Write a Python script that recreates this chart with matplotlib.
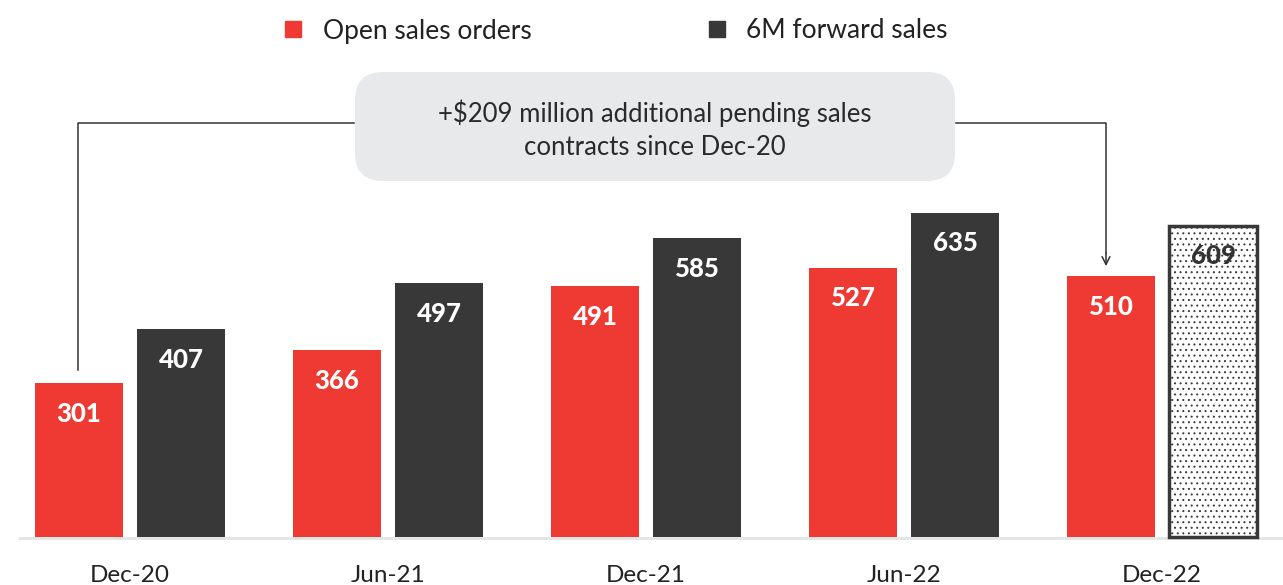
import numpy as np
import matplotlib.pyplot as plt
from matplotlib.patches import FancyBboxPatch

plt.rcParams['font.family'] = ['Lato', 'DejaVu Sans']
plt.rcParams['hatch.color'] = '#6a6a6a'
plt.rcParams['hatch.linewidth'] = 0.7

periods = ['Dec-20', 'Jun-21', 'Dec-21', 'Jun-22', 'Dec-22']
open_orders = [301, 366, 491, 527, 510]
forward_sales = [407, 497, 585, 635, 609]
legend_labels = ['Open sales orders', '6M forward sales']
note = '+$209 million additional pending sales\ncontracts since Dec-20'

RED = '#ee3a33'
DARK = '#383838'

fig = plt.figure(figsize=(12.83, 5.85), dpi=100)
ax = fig.add_axes([0, 0, 1, 1])
# 1 x unit = 258 px, 1 y unit = 0.511 px, baseline 48 px from the bottom
ax.set_xlim(-130 / 258, (1283 - 130) / 258)
ax.set_ylim(-48 / 0.511, (585 - 48) / 0.511)
ax.axis('off')

x = np.arange(len(periods))
w = 88 / 258
off = 51 / 258

ax.bar(x - off, open_orders, w, color=RED, zorder=2)
ax.bar(x[:-1] + off, forward_sales[:-1], w, color=DARK, zorder=2)
# last forward value is a projection: dotted bar
ax.bar(x[-1:] + off, forward_sales[-1:], w, facecolor='white', edgecolor=DARK,
       linewidth=2.5, hatch='...', zorder=2)

lab_off = 60
for i in range(len(periods)):
    ax.text(x[i] - off, open_orders[i] - lab_off, str(open_orders[i]), ha='center',
            va='center', color='white', fontsize=18.5, fontweight='black', zorder=3)
    c = 'white' if i < len(periods) - 1 else '#333333'
    ax.text(x[i] + off, forward_sales[i] - lab_off, str(forward_sales[i]), ha='center',
            va='center', color=c, fontsize=18.5, fontweight='black', zorder=3)
    ax.text(x[i], -76, periods[i], ha='center', va='center', color='#222222',
            fontsize=17.5)

# baseline
ax.plot([18 / 258 - 130 / 258, 4.47], [-1.5, -1.5], color='#e4e4e4', lw=2, zorder=1,
        solid_capstyle='butt')

# connector from first red bar to last red bar
y_line = 810
xl = x[0] - off - 1 / 258
xr = x[-1] - off - 5 / 258
ax.plot([xl, xl, 0.87], [open_orders[0] + 25, y_line, y_line], color='#333333', lw=1.1,
        zorder=1)
ax.plot([3.2, xr, xr], [y_line, y_line, open_orders[-1] + 45], color='#333333', lw=1.1,
        zorder=1)
ax.annotate('', xy=(xr, open_orders[-1] + 20), xytext=(xr, open_orders[-1] + 46),
            arrowprops=dict(arrowstyle='->', color='#333333', lw=1.1,
                            mutation_scale=14, shrinkA=0, shrinkB=0))

# note box and legend in pixel coordinates
ov = fig.add_axes([0, 0, 1, 1])
ov.set_xlim(0, 1283)
ov.set_ylim(585, 0)
ov.axis('off')
ov.patch.set_alpha(0)

ov.add_patch(FancyBboxPatch((355, 72), 600, 109, boxstyle='round,pad=0,rounding_size=28',
                            facecolor='#e8e9eb', edgecolor='none'))
ov.text(655, 130, note, ha='center', va='center', fontsize=18.5, color='#2a2a2a',
        linespacing=1.38)

for (sx, tx), lab, col in zip([(285, 323), (709, 746)], legend_labels, [RED, DARK]):
    ov.add_patch(plt.Rectangle((sx, 21), 16, 16, color=col))
    ov.text(tx, 31, lab, ha='left', va='center', fontsize=19, color='#222222')

fig.savefig('out.png', dpi=100)
